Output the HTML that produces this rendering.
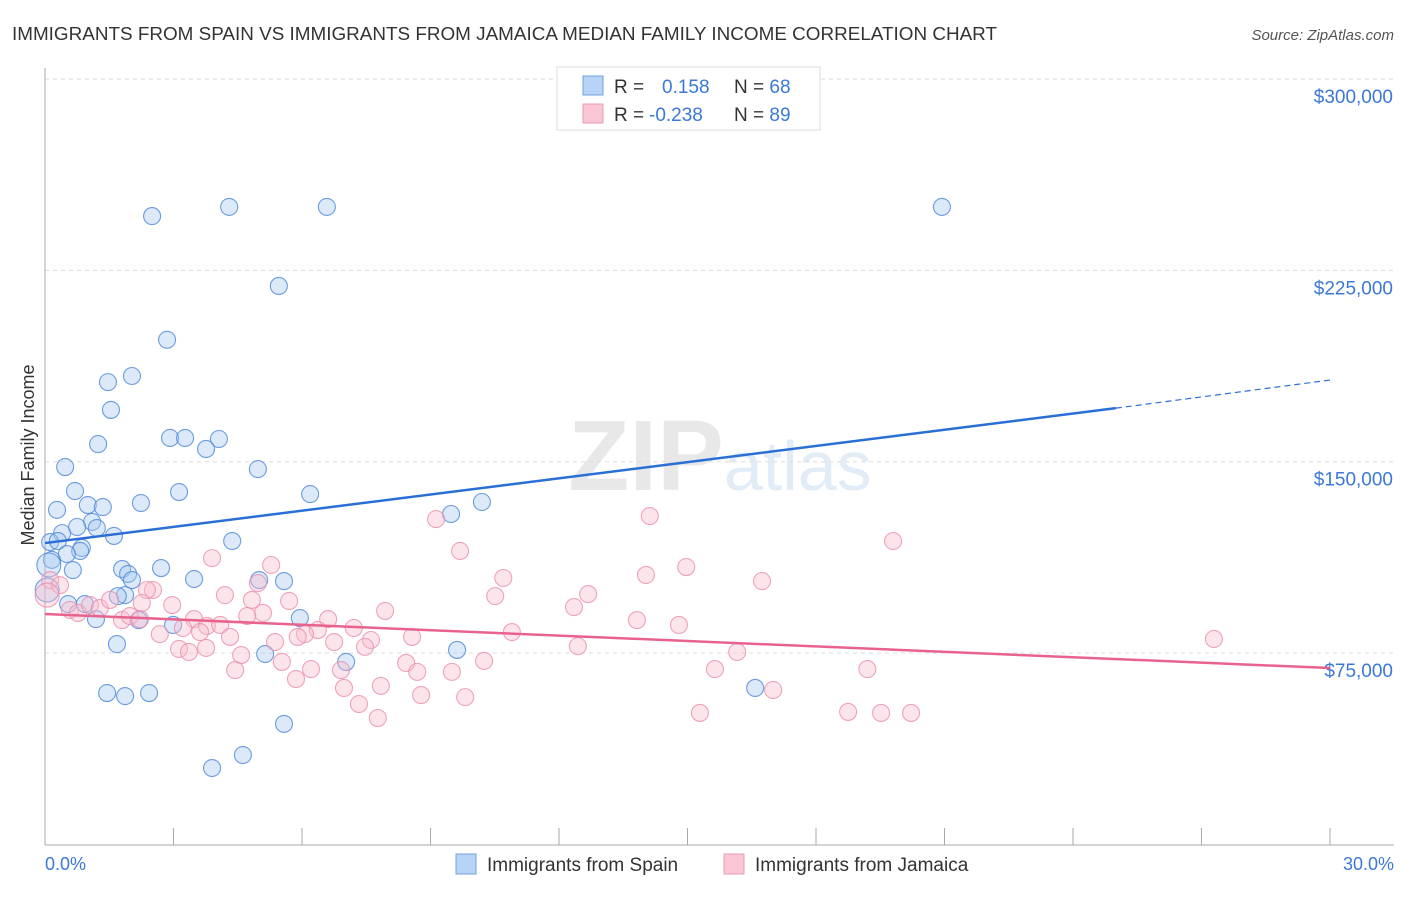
<!DOCTYPE html>
<html><head><meta charset="utf-8"><style>
body{margin:0;background:#fff;font-family:"Liberation Sans",sans-serif;}
svg text{font-family:"Liberation Sans",sans-serif;}
</style></head><body>
<svg id="chart" width="1406" height="892" xmlns="http://www.w3.org/2000/svg">
<text x="12" y="40" font-size="18" fill="#333" textLength="985" lengthAdjust="spacingAndGlyphs">IMMIGRANTS FROM SPAIN VS IMMIGRANTS FROM JAMAICA MEDIAN FAMILY INCOME CORRELATION CHART</text>
<text x="1394" y="40" font-size="15" fill="#555" font-style="italic" text-anchor="end">Source: ZipAtlas.com</text>
<text x="720" y="490" font-size="100" fill="#ececec" text-anchor="middle" font-family="Liberation Serif"><tspan font-weight="bold" fill="#e8e8e8">ZIP</tspan><tspan fill="#e2ecf7" font-family="Liberation Sans" font-size="70">atlas</tspan></text>
<g id="grid"></g>
<g id="axes"></g>
<g id="blue"></g>
<g id="pink"></g>
<g id="lines"></g>
<text transform="translate(34,455) rotate(-90)" font-size="18" fill="#333" text-anchor="middle">Median Family Income</text>
<text x="45" y="870" font-size="18" fill="#3b78d8">0.0%</text>
<text x="1394" y="870" font-size="18" fill="#3b78d8" text-anchor="end">30.0%</text>
<g>
<rect x="557" y="67" width="263" height="63" fill="#fff" stroke="#ddd"/>
<rect x="583" y="76" width="20" height="19" fill="#b7d3f5" stroke="#6fa0e0"/>
<rect x="583" y="104" width="20" height="19" fill="#f8c6d4" stroke="#eb9ab2"/>
<text x="614" y="93" font-size="19" fill="#333">R = <tspan fill="#3b78d8" x="662">0.158</tspan><tspan x="734" fill="#333">N = </tspan><tspan fill="#3b78d8">68</tspan></text>
<text x="614" y="121" font-size="19" fill="#333">R = <tspan fill="#3b78d8" x="649">-0.238</tspan><tspan x="734" fill="#333">N = </tspan><tspan fill="#3b78d8">89</tspan></text>
</g>
<g>
<rect x="456" y="854" width="20" height="20" fill="#b7d3f5" stroke="#6fa0e0"/>
<text x="487" y="871" font-size="19" fill="#333">Immigrants from Spain</text>
<rect x="724" y="854" width="20" height="20" fill="#f8c6d4" stroke="#eb9ab2"/>
<text x="755" y="871" font-size="19" fill="#333">Immigrants from Jamaica</text>
</g>
</svg>
<script>
const yTicks=[75000,150000,225000,300000];
const yTickLabels=["$75,000","$150,000","$225,000","$300,000"];
const spainX=[2.5,4.3,6.58,20.94,5.46,2.85,2.03,1.47,1.54,1.24,2.92,3.27,4.06,3.76,4.97,0.47,0.7,3.13,6.19,2.24,1.0,1.35,10.2,9.48,0.28,0.4,1.1,0.75,1.21,1.61,4.37,0.12,0.3,0.86,0.82,0.51,0.16,0.09,0.65,1.8,2.71,1.94,2.03,3.48,5.0,5.58,1.87,1.7,0.54,0.93,1.19,2.19,2.99,5.95,9.62,1.68,5.14,7.03,1.45,1.87,2.43,16.58,5.58,4.62,3.9,0.05];
const spainY=[246.3,249.9,249.9,249.9,218.9,197.8,183.6,181.2,170.3,156.9,159.3,159.3,158.9,155,147.1,147.9,138.5,138.1,137.3,133.8,133,132.2,134.2,129.5,131.1,122,126.4,124.4,124,120.9,118.9,118.5,118.9,116.2,115,113.8,111.5,109.5,107.5,107.9,108.3,106,103.6,104,103.6,103.2,97.7,97.3,94.2,94.2,88.3,87.9,86,88.7,76.2,78.5,74.6,71.5,59.3,58.1,59.3,61.3,47.2,35,29.9,99.7];
const jamX=[9.13,14.12,9.69,19.8,3.9,5.28,14.03,14.97,10.7,16.74,12.68,10.51,12.35,7.94,4.97,4.2,2.52,2.38,2.97,2.26,5.7,4.83,5.09,4.72,3.48,3.78,4.09,3.22,3.62,2.68,4.32,6.61,6.37,6.07,5.9,7.21,8.57,7.61,6.75,5.37,7.47,10.9,12.44,13.82,14.8,16.16,15.64,19.2,17.0,27.29,3.13,3.36,3.76,4.58,5.53,4.44,6.21,6.91,8.43,8.69,9.5,10.25,5.86,6.98,7.84,8.78,9.81,7.33,7.77,15.29,18.75,19.52,20.22,0.12,0.35,0.58,0.77,1.05,1.28,1.52,1.8,1.98,2.22,0.05];
const jamY=[127.5,128.7,115,118.9,112.2,109.5,105.6,108.7,104.4,103.2,98.1,97.3,93,91.5,102.4,97.7,99.7,99.7,93.8,94.6,95.4,95.8,90.7,89.5,88.3,85.6,86,84.8,83.2,82.4,81.3,88.3,84,82.4,81.3,84.8,81.3,80.1,79.3,79.3,77.4,83.2,77.7,87.9,86,75.4,68.7,68.7,60.5,80.5,76.6,75.4,77,74.2,71.5,68.3,68.7,68.3,71.1,67.6,67.6,71.9,64.8,61.3,62.1,58.5,57.7,55,49.5,51.5,51.9,51.5,51.5,103.6,101.6,91.9,90.7,93.8,92.6,95.8,87.9,89.5,88.3,97.7];
const spainTrend=[[0,118.1],[25,171],[30,182]];
const jamTrend=[[0,90.3],[30,69.1]];
const NS="http://www.w3.org/2000/svg";
const X=v=>45+v*(1285/30);
const Y=v=>653-(v*1000-75000)*191.3/75000;
const Yd=v=>653-(v-75000)*191.3/75000;
function mk(t,a,p){const e=document.createElementNS(NS,t);for(const k in a)e.setAttribute(k,a[k]);p.appendChild(e);return e;}
const grid=document.getElementById('grid'),axes=document.getElementById('axes');
yTicks.forEach((t,i)=>{
 const l=mk('line',{x1:45,x2:1394,y1:Yd(t),y2:Yd(t),stroke:'#ddd','stroke-dasharray':'4,4'},grid);
 
 
 const tx=mk('text',{x:1393,y:Yd(t)+24,'font-size':19,fill:'#3b78d8','text-anchor':'end'},grid);
 tx.textContent=yTickLabels[i];
 
 
});
mk('line',{x1:45,x2:45,y1:68,y2:845,stroke:'#aaa'},axes);
mk('line',{x1:45,x2:1394,y1:845,y2:845,stroke:'#aaa'},axes);
for(let i=1;i<=10;i++){const x=X(i*3);const t=mk('line',{x1:x,x2:x,y1:828,y2:845,stroke:'#aaa'},axes);
 
 }
function pts(xs,ys,g,fill,stroke,name){
 xs.forEach((x,i)=>{const big=x<0.1;const c=mk('circle',{cx:X(x),cy:Y(ys[i]),r:big?12:8.5,fill:fill,'fill-opacity':0.4,stroke:stroke,'stroke-opacity':0.8,'stroke-width':1.1},g);
 
 });
}
pts(spainX,spainY,document.getElementById('blue'),'#a8c8f0','#4a86d8','spain-point');
pts(jamX,jamY,document.getElementById('pink'),'#f7bccd','#ea8fab','jamaica-point');
const L=document.getElementById('lines');
const b1=mk('line',{x1:X(spainTrend[0][0]),y1:Y(spainTrend[0][1]),x2:X(spainTrend[1][0]),y2:Y(spainTrend[1][1]),stroke:'#2a6fd6','stroke-width':2.5},L);


const b2=mk('line',{x1:X(spainTrend[1][0]),y1:Y(spainTrend[1][1]),x2:X(spainTrend[2][0]),y2:Y(spainTrend[2][1]),stroke:'#2a6fd6','stroke-width':1.2,'stroke-dasharray':'6,4'},L);


const p1=mk('line',{x1:X(jamTrend[0][0]),y1:Y(jamTrend[0][1]),x2:X(jamTrend[1][0]),y2:Y(jamTrend[1][1]),stroke:'#e8628d','stroke-width':2.5},L);


</script>
</body></html>
